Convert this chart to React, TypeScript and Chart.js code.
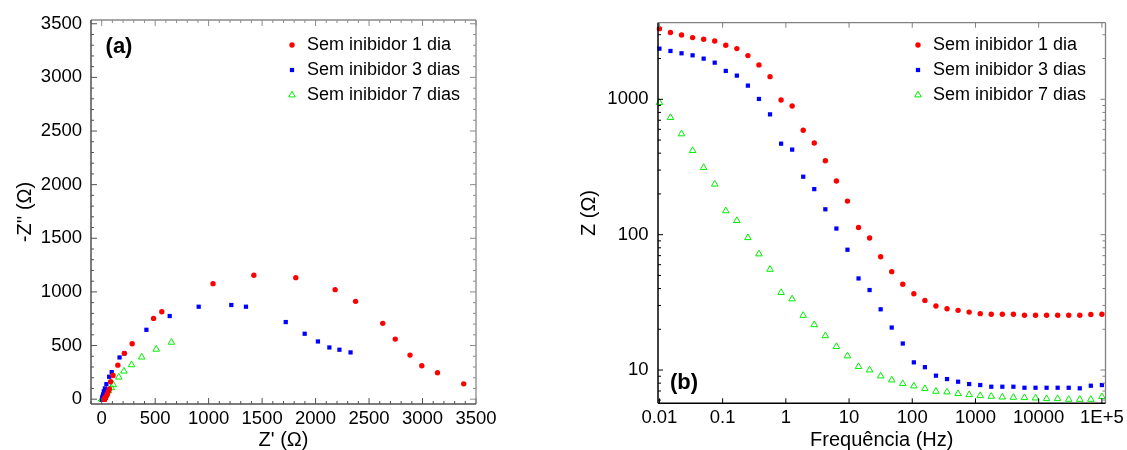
import React, { useEffect, useRef } from 'react';
import { Chart, registerables } from 'chart.js';

Chart.register(...registerables);

const FONT = '"Liberation Sans", Arial, Helvetica, sans-serif';

// ---------- data ----------
const SERIES_LABELS = ['Sem inibidor 1 dia', 'Sem inibidor 3 dias', 'Sem inibidor 7 dias'];

// Bode (b): frequency (Hz) and |Z| (Ω)
const FREQ_HZ = [0.01, 0.01496, 0.02239, 0.0335, 0.05012, 0.07499, 0.1122, 0.1679, 0.2512, 0.3758, 0.5623, 0.8414, 1.259, 1.884, 2.818, 4.217, 6.31, 9.441, 14.13, 21.13, 31.62, 47.32, 70.79, 105.9, 158.5, 237.1, 354.8, 530.9, 794.3, 1189, 1778, 2661, 3981, 5957, 8913, 13335, 19953, 29854, 44668, 66834, 100000];
const Z_1DIA = [3327, 3112, 2988, 2855, 2775, 2697, 2506, 2368, 2102, 1795, 1470, 989, 893, 590, 476, 352, 249, 177, 113, 94.4, 68.7, 53.3, 43.0, 36.6, 32.7, 29.7, 28.4, 27.6, 26.8, 26.1, 25.8, 25.8, 25.8, 25.4, 25.4, 25.4, 25.4, 25.4, 25.4, 25.7, 25.8];
const Z_3DIAS = [2366, 2275, 2187, 2113, 1997, 1865, 1620, 1496, 1262, 1006, 774, 470, 425, 268, 217, 154, 111, 77.4, 47.5, 39.0, 28.1, 20.6, 15.7, 11.4, 10.5, 9.09, 8.58, 8.2, 7.88, 7.75, 7.53, 7.53, 7.53, 7.4, 7.4, 7.4, 7.4, 7.4, 7.33, 7.66, 7.75];
const Z_7DIAS = [945, 733, 555, 418, 313, 236, 150, 127, 95.0, 72.0, 55.4, 37.3, 33.5, 25.3, 21.6, 17.9, 14.9, 12.7, 10.6, 10.0, 9.03, 8.44, 7.93, 7.62, 7.28, 6.96, 6.88, 6.69, 6.57, 6.46, 6.39, 6.31, 6.28, 6.25, 6.21, 6.14, 6.14, 6.07, 6.07, 6.07, 6.35];

// Nyquist (a): Z' and -Z'' (Ω)
const ZRE_1DIA = [3385, 3140, 2993, 2883, 2745, 2628, 2374, 2183, 1815, 1423, 1041, 562, 485, 285, 212, 151, 106, 84, 72, 62, 52, 44, 38, 34, 31, 29, 28, 27.3, 26.6, 26, 25.8, 25.7, 25.6, 25.4, 25.4, 25.4, 25.4, 25.4, 25.4, 25.6, 25.7];
const ZIM_1DIA = [143, 246, 311, 411, 560, 707, 912, 1021, 1133, 1155, 1077, 815, 753, 517, 427, 317, 221, 162, 96, 72, 47, 31, 21, 13, 9, 6, 4, 3, 2, 1.5, 1, 0.8, 0.6, 0.4, 0.2, 0, -0.3, -0.6, -1, -1.5, -2];
const ZRE_3DIAS = [2327, 2223, 2129, 2022, 1898, 1721, 1349, 1212, 907, 636, 418, 211, 167, 94, 70, 44, 30, 20, 15, 13, 10, 9, 8.5, 8, 8, 7.8, 7.7, 7.6, 7.5, 7.5, 7.4, 7.4, 7.4, 7.3, 7.3, 7.3, 7.3, 7.3, 7.3, 7.6, 7.7];
const ZIM_3DIAS = [436, 461, 482, 538, 610, 719, 862, 878, 862, 775, 647, 426, 389, 252, 209, 140, 100, 74, 45, 37, 26, 18.5, 13, 8, 6.8, 4.6, 3.8, 3, 2.2, 1.6, 1, 0.9, 0.8, 0.6, 0.5, 0.4, 0.3, 0.2, 0, -0.5, -1];
const ZRE_7DIAS = [652, 510, 374, 279, 208, 160, 108, 90, 64, 44, 34, 24, 21, 16, 14, 12, 10.5, 9.5, 8.5, 8.2, 7.6, 7.3, 7.0, 6.9, 6.8, 6.7, 6.6, 6.5, 6.4, 6.3, 6.25, 6.2, 6.2, 6.2, 6.15, 6.1, 6.1, 6.05, 6.05, 6.05, 6.3];
const ZIM_7DIAS = [530, 465, 392, 320, 261, 205, 134, 106, 78, 53, 42, 28, 26, 19, 16, 13, 10.5, 8.5, 6.3, 5.7, 4.8, 4.1, 3.6, 3.2, 2.6, 2.2, 1.9, 1.6, 1.4, 1.2, 1.0, 0.9, 0.8, 0.7, 0.6, 0.5, 0.4, 0.3, 0.2, 0.1, -1.5];

// ticks
const NYQ_TICKS = [0, 500, 1000, 1500, 2000, 2500, 3000, 3500];
const NYQ_MINOR = [-100, 100, 200, 300, 400, 600, 700, 800, 900, 1100, 1200, 1300, 1400, 1600, 1700, 1800, 1900, 2100, 2200, 2300, 2400, 2600, 2700, 2800, 2900, 3100, 3200, 3300, 3400];
const BODE_X_TICKS = [0.01, 0.1, 1, 10, 100, 1000, 10000, 100000];
const BODE_X_LABELS = ['0.01', '0.1', '1', '10', '100', '1000', '10000', '1E+5'];
const BODE_Y_TICKS = [10, 100, 1000];
const BODE_Y_LABELS = ['10', '100', '1000'];
const BODE_Y_MINOR = [6, 7, 8, 9, 20, 30, 40, 50, 60, 70, 80, 90, 200, 300, 400, 500, 600, 700, 800, 900, 2000, 3000];

// ---------- styles ----------
const RED = '#ff0000';
const BLUE = '#0000ff';
const GREEN = '#00ee00';
const MARKERS = ['circle', 'rect', 'triangle'];

function seriesStyle(i: number) {
  if (i === 0) return { pointStyle: 'circle', pointRadius: 2.7, backgroundColor: RED, borderColor: RED, borderWidth: 0 };
  if (i === 1) return { pointStyle: 'rect', pointRadius: 3, backgroundColor: BLUE, borderColor: BLUE, borderWidth: 0 };
  return { pointStyle: 'triangle', pointRadius: 3.8, backgroundColor: 'rgba(0,0,0,0)', borderColor: GREEN, borderWidth: 1 };
}

function drawMarker(ctx: CanvasRenderingContext2D, kind: string, x: number, y: number) {
  ctx.save();
  if (kind === 'circle') {
    ctx.fillStyle = RED;
    ctx.beginPath();
    ctx.arc(x, y, 2.7, 0, Math.PI * 2);
    ctx.fill();
  } else if (kind === 'rect') {
    const s = 3 * Math.SQRT1_2;
    ctx.fillStyle = BLUE;
    ctx.fillRect(x - s, y - s, 2 * s, 2 * s);
  } else {
    const r = 3.8;
    ctx.strokeStyle = GREEN;
    ctx.lineWidth = 1;
    ctx.beginPath();
    ctx.moveTo(x, y - r);
    ctx.lineTo(x + r * Math.sin((2 * Math.PI) / 3), y - r * Math.cos((2 * Math.PI) / 3));
    ctx.lineTo(x + r * Math.sin((4 * Math.PI) / 3), y - r * Math.cos((4 * Math.PI) / 3));
    ctx.closePath();
    ctx.stroke();
  }
  ctx.restore();
}

type Decor = {
  xMajor: number[]; xMinor: number[]; yMajor: number[]; yMinor: number[];
  mainColor: string; sideColor: string; majorLen: number; minorLen: number;
  markerX: number; textX: number; rowsY: number[];
  tag: string; tagX: number; tagY: number;
};

function decorPlugin(d: Decor) {
  return {
    id: 'decor',
    afterDraw(chart: any) {
      const ctx: CanvasRenderingContext2D = chart.ctx;
      const a = chart.chartArea;
      const xs = chart.scales.x;
      const ys = chart.scales.y;
      ctx.save();
      const line = (x1: number, y1: number, x2: number, y2: number, c: string, w: number) => {
        ctx.strokeStyle = c;
        ctx.lineWidth = w;
        ctx.beginPath();
        ctx.moveTo(x1, y1);
        ctx.lineTo(x2, y2);
        ctx.stroke();
      };
      const xt = (vals: number[], len: number) => vals.forEach((v) => {
        const p = xs.getPixelForValue(v);
        if (p < a.left - 0.5 || p > a.right + 0.5) return;
        line(p, a.bottom, p, a.bottom - len, d.mainColor, 1);
        line(p, a.top, p, a.top + len, d.sideColor, 1);
      });
      const yt = (vals: number[], len: number) => vals.forEach((v) => {
        const p = ys.getPixelForValue(v);
        if (p < a.top - 0.5 || p > a.bottom + 0.5) return;
        line(a.left, p, a.left + len, p, d.mainColor, 1);
        line(a.right, p, a.right - len, p, d.sideColor, 1);
      });
      xt(d.xMajor, d.majorLen);
      xt(d.xMinor, d.minorLen);
      yt(d.yMajor, d.majorLen);
      yt(d.yMinor, d.minorLen);
      // frame
      line(a.left, a.top, a.right, a.top, d.sideColor, 1.3);
      line(a.right, a.top, a.right, a.bottom, d.sideColor, 1.3);
      line(a.left, a.bottom, a.right, a.bottom, d.mainColor, 1.5);
      line(a.left, a.top, a.left, a.bottom, d.mainColor, 1.5);
      // legend
      ctx.font = `18px ${FONT}`;
      ctx.fillStyle = '#000';
      ctx.textAlign = 'left';
      ctx.textBaseline = 'middle';
      SERIES_LABELS.forEach((lab, i) => {
        drawMarker(ctx, MARKERS[i], d.markerX, d.rowsY[i]);
        ctx.fillStyle = '#000';
        ctx.fillText(lab, d.textX, d.rowsY[i]);
      });
      // panel tag
      ctx.font = `bold 22px ${FONT}`;
      ctx.textAlign = 'center';
      ctx.fillText(d.tag, d.tagX, d.tagY);
      ctx.restore();
    },
  };
}

const tickFont = { family: FONT, size: 18.5 };
const titleFont = { family: FONT, size: 20, lineHeight: 1 };

function buildNyquist(): any {
  const re = [ZRE_1DIA, ZRE_3DIAS, ZRE_7DIAS];
  const im = [ZIM_1DIA, ZIM_3DIAS, ZIM_7DIAS];
  return {
    type: 'scatter',
    data: {
      datasets: SERIES_LABELS.map((label, i) => ({
        label,
        data: re[i].map((x, k) => ({ x, y: im[i][k] })),
        showLine: false,
        clip: false,
        ...seriesStyle(i),
      })),
    },
    options: {
      animation: false,
      responsive: false,
      events: [],
      layout: { padding: { left: 0, top: 20, right: 84, bottom: 0 } },
      plugins: { legend: { display: false }, tooltip: { enabled: false } },
      scales: {
        x: {
          type: 'linear', min: -100, max: 3500, bounds: 'data',
          afterBuildTicks: (s: any) => { s.ticks = NYQ_TICKS.map((v) => ({ value: v })); },
          afterFit: (s: any) => { s.height = 46; s.paddingLeft = 0; s.paddingRight = 0; },
          ticks: { font: tickFont, color: '#000', padding: 4, maxRotation: 0, autoSkip: false, callback: (v: any) => String(v) },
          grid: { display: false, drawTicks: false },
          border: { display: false },
          title: { display: true, text: "Z' (Ω)", font: titleFont, color: '#000', padding: 0 },
        },
        y: {
          type: 'linear', min: -45, max: 3535, bounds: 'data',
          afterBuildTicks: (s: any) => { s.ticks = NYQ_TICKS.map((v) => ({ value: v })); },
          afterFit: (s: any) => { s.width = 91; s.paddingTop = 0; s.paddingBottom = 0; },
          ticks: { font: tickFont, color: '#000', padding: 9, autoSkip: false, callback: (v: any) => String(v) },
          grid: { display: false, drawTicks: false },
          border: { display: false },
          title: { display: true, text: "-Z'' (Ω)", font: titleFont, color: '#000', padding: { top: 15, bottom: 0 } },
        },
      },
    },
    plugins: [decorPlugin({
      xMajor: NYQ_TICKS, xMinor: NYQ_MINOR, yMajor: NYQ_TICKS, yMinor: NYQ_MINOR,
      mainColor: '#505050', sideColor: '#8a8a8a', majorLen: 6, minorLen: 3,
      markerX: 292, textX: 307, rowsY: [45, 70, 95],
      tag: '(a)', tagX: 119, tagY: 47,
    })],
  };
}

function buildBode(): any {
  const zs = [Z_1DIA, Z_3DIAS, Z_7DIAS];
  return {
    type: 'scatter',
    data: {
      datasets: SERIES_LABELS.map((label, i) => ({
        label,
        data: FREQ_HZ.map((f, k) => ({ x: f, y: zs[i][k] })),
        showLine: false,
        clip: false,
        ...seriesStyle(i),
      })),
    },
    options: {
      animation: false,
      responsive: false,
      events: [],
      layout: { padding: { left: 0, top: 22.7, right: 21.5, bottom: 0 } },
      plugins: { legend: { display: false }, tooltip: { enabled: false } },
      scales: {
        x: {
          type: 'logarithmic', min: 0.0095, max: 114000, bounds: 'data',
          afterBuildTicks: (s: any) => { s.ticks = BODE_X_TICKS.map((v) => ({ value: v })); },
          afterFit: (s: any) => { s.height = 46.7; s.paddingLeft = 0; s.paddingRight = 0; },
          ticks: { font: tickFont, color: '#000', padding: 4, maxRotation: 0, autoSkip: false, callback: (_v: any, i: number) => BODE_X_LABELS[i] },
          grid: { display: false, drawTicks: false },
          border: { display: false },
          title: { display: true, text: 'Frequência (Hz)', font: titleFont, color: '#000', padding: 0 },
        },
        y: {
          type: 'logarithmic', min: 5.68, max: 3680, bounds: 'data',
          afterBuildTicks: (s: any) => { s.ticks = BODE_Y_TICKS.map((v) => ({ value: v })); },
          afterFit: (s: any) => { s.width = 98; s.paddingTop = 0; s.paddingBottom = 0; },
          ticks: { font: tickFont, color: '#000', padding: 9.5, autoSkip: false, callback: (_v: any, i: number) => BODE_Y_LABELS[i] },
          grid: { display: false, drawTicks: false },
          border: { display: false },
          title: { display: true, text: 'Z (Ω)', font: titleFont, color: '#000', padding: { top: 19, bottom: 0 } },
        },
      },
    },
    plugins: [decorPlugin({
      xMajor: BODE_X_TICKS, xMinor: [], yMajor: BODE_Y_TICKS, yMinor: BODE_Y_MINOR,
      mainColor: '#000000', sideColor: '#808080', majorLen: 5, minorLen: 3,
      markerX: 358, textX: 373, rowsY: [45, 70, 95],
      tag: '(b)', tagX: 124, tagY: 383,
    })],
  };
}

function ChartCanvas({ left, width, build }: { left: number; width: number; build: () => any }) {
  const ref = useRef<HTMLCanvasElement>(null);
  useEffect(() => {
    const chart = new Chart(ref.current as HTMLCanvasElement, build());
    return () => chart.destroy();
  }, [build]);
  return (
    <canvas
      ref={ref}
      width={width}
      height={450}
      style={{ position: 'absolute', left, top: 0, width, height: 450 }}
    />
  );
}

export default function App() {
  return (
    <div style={{ position: 'absolute', left: 0, top: 0, width: 1127, height: 450, background: '#fff' }}>
      <ChartCanvas left={0} width={560} build={buildNyquist} />
      <ChartCanvas left={560} width={567} build={buildBode} />
    </div>
  );
}
